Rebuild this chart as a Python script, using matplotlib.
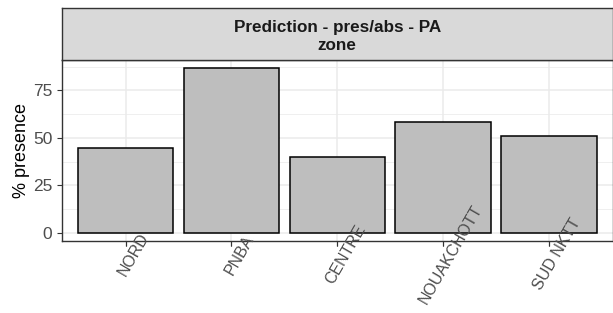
import matplotlib.pyplot as plt
import matplotlib.transforms as mtransforms
from matplotlib.ticker import MultipleLocator

zones = ['NORD', 'PNBA', 'CENTRE', 'NOUAKCHOTT', 'SUD NKTT']
presence = [44.5, 86.6, 39.7, 58.2, 50.8]

plt.rcParams['font.family'] = ['Liberation Sans', 'DejaVu Sans']

W, H = 613, 313
fig = plt.figure(figsize=(W / 100, H / 100), dpi=100)

# panel and facet strip, in pixel positions of the reference
left, right = 62, 612.5
top_strip, top_panel, bottom = 8, 60, 241
rect = [left / W, 1 - bottom / H, (right - left) / W, (bottom - top_panel) / H]
ax = fig.add_axes(rect)
strip = fig.add_axes([left / W, 1 - top_panel / H, (right - left) / W, (top_panel - top_strip) / H])

x = list(range(1, len(zones) + 1))
ax.bar(x, presence, width=0.9, color='#BEBEBE', edgecolor='black', linewidth=1.1, zorder=3)

xlim = (0.4, len(zones) + 0.6)
ax.set_xlim(*xlim)
ax.set_ylim(-max(presence) * 0.05, max(presence) * 1.05)
ax.yaxis.set_major_locator(MultipleLocator(25))
ax.yaxis.set_minor_locator(MultipleLocator(12.5))
ax.set_xticks(x)
ax.tick_params(axis='x', labelbottom=False)

ax.grid(True, which='major', color='#EBEBEB', linewidth=1.1, zorder=0)
ax.grid(True, which='minor', axis='y', color='#EBEBEB', linewidth=0.55, zorder=0)
ax.tick_params(which='minor', length=0)
ax.tick_params(which='major', length=3.5, width=0.8, color='#333333',
               labelcolor='#4D4D4D', labelsize=12.5, pad=3.5)
for s in ax.spines.values():
    s.set_color('#333333')
    s.set_linewidth(1.0)

ax.set_ylabel('% presence', fontsize=13, color='black', labelpad=2)

# x labels sit above the bars in the reference, so draw them on an overlay
lab_ax = fig.add_axes(rect, zorder=5)
lab_ax.patch.set_visible(False)
for s in lab_ax.spines.values():
    s.set_visible(False)
lab_ax.set_xlim(*xlim)
lab_ax.set_yticks([])
lab_ax.set_xticks(x)
lab_ax.set_xticklabels(zones)
lab_ax.tick_params(axis='x', length=3.5, width=0.8, color='#333333',
                   labelcolor='#4D4D4D', labelsize=11.5, pad=2)
offset = mtransforms.ScaledTranslation(8 / 100, -6 / 100, fig.dpi_scale_trans)
for lab in lab_ax.get_xticklabels():
    lab.set_rotation(60)
    lab.set_ha('center')
    lab.set_va('center')
    lab.set_transform(lab.get_transform() + offset)

strip.set_facecolor('#D9D9D9')
strip.set_xticks([])
strip.set_yticks([])
for s in strip.spines.values():
    s.set_color('#333333')
    s.set_linewidth(1.0)
strip.text(0.5, 0.46, 'Prediction - pres/abs - PA\nzone', ha='center', va='center',
           fontsize=12.3, fontweight='bold', color='#1A1A1A', linespacing=1.25,
           transform=strip.transAxes)

fig.savefig('out.png', dpi=100)
